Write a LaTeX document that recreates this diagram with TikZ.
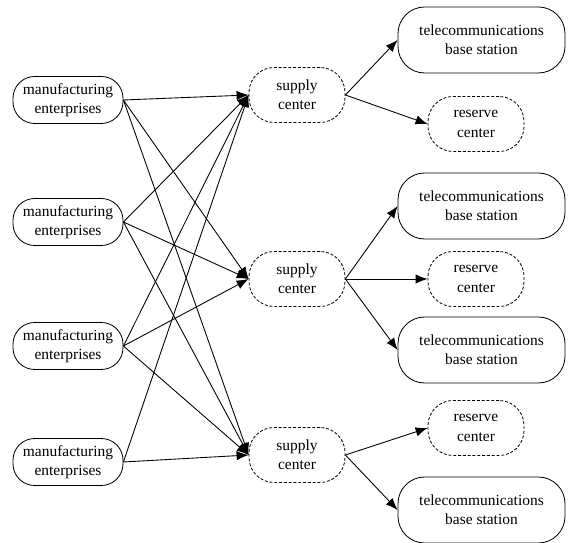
\documentclass[tikz,border=0pt]{standalone}
\usepackage{fontspec}
\setmainfont{Liberation Serif}
\usetikzlibrary{arrows.meta}

\begin{document}
\begin{tikzpicture}[
	font=\rmfamily\fontsize{13.2}{16.5}\selectfont,
	maker/.style={draw=black,line width=0.7pt,rounded corners=0.65cm,align=center,inner sep=1pt,minimum width=3.3cm,minimum height=1.41cm},
	hub/.style={draw=black,line width=0.7pt,dash pattern=on 2.5pt off 1.6pt,rounded corners=0.75cm,align=center,inner sep=1pt,minimum width=2.88cm,minimum height=1.65cm},
	station/.style={draw=black,line width=0.7pt,rounded corners=0.8cm,align=center,inner sep=1pt,minimum width=5.01cm,minimum height=1.98cm},
	link/.style={-{Latex[length=3.6mm,width=2.8mm]},draw=black,line width=0.75pt}
	]
	\useasboundingbox (0,0) rectangle (17.04,16.29);

	\node[maker] (m1) at (2.04,13.29) {manufacturing\\enterprises};
	\node[maker] (m2) at (2.04,9.63) {manufacturing\\enterprises};
	\node[maker] (m3) at (2.04,5.91) {manufacturing\\enterprises};
	\node[maker] (m4) at (2.04,2.43) {manufacturing\\enterprises};

	\node[hub] (s1) at (8.91,13.44) {supply\\center};
	\node[hub] (s2) at (8.91,7.92) {supply\\center};
	\node[hub] (s3) at (8.91,2.64) {supply\\center};

	\node[station] (t1) at (14.445,15.09) {telecommunications\\base station};
	\node[hub] (r1) at (14.28,12.57) {reserve\\center};
	\node[station] (t2) at (14.445,10.11) {telecommunications\\base station};
	\node[hub] (r2) at (14.28,7.92) {reserve\\center};
	\node[station] (t3) at (14.445,5.79) {telecommunications\\base station};
	\node[hub] (r3) at (14.28,3.45) {reserve\\center};
	\node[station] (t4) at (14.445,0.99) {telecommunications\\base station};

	% enterprises to supply centers
	\path[link] (m1.east) -- (s1.west);
	\path[link] (m1.east) -- (s2.west);
	\path[link] (m1.east) -- (s3.west);
	\path[link] (m2.east) -- (s1.west);
	\path[link] (m2.east) -- (s2.west);
	\path[link] (m2.east) -- (s3.west);
	\path[link] (m3.east) -- (s1.west);
	\path[link] (m3.east) -- (s2.west);
	\path[link] (m3.east) -- (s3.west);
	\path[link] (m4.east) -- (s1.west);
	\path[link] (m4.east) -- (s3.west);

	% supply centers to stations
	\path[link] (s1.east) -- (t1.west);
	\path[link] (s1.east) -- (r1.west);
	\path[link] (s2.east) -- (t2.west);
	\path[link] (s2.east) -- (r2.west);
	\path[link] (s2.east) -- (t3.west);
	\path[link] (s3.east) -- (r3.west);
	\path[link] (s3.east) -- (t4.west);

\end{tikzpicture}
\end{document}
